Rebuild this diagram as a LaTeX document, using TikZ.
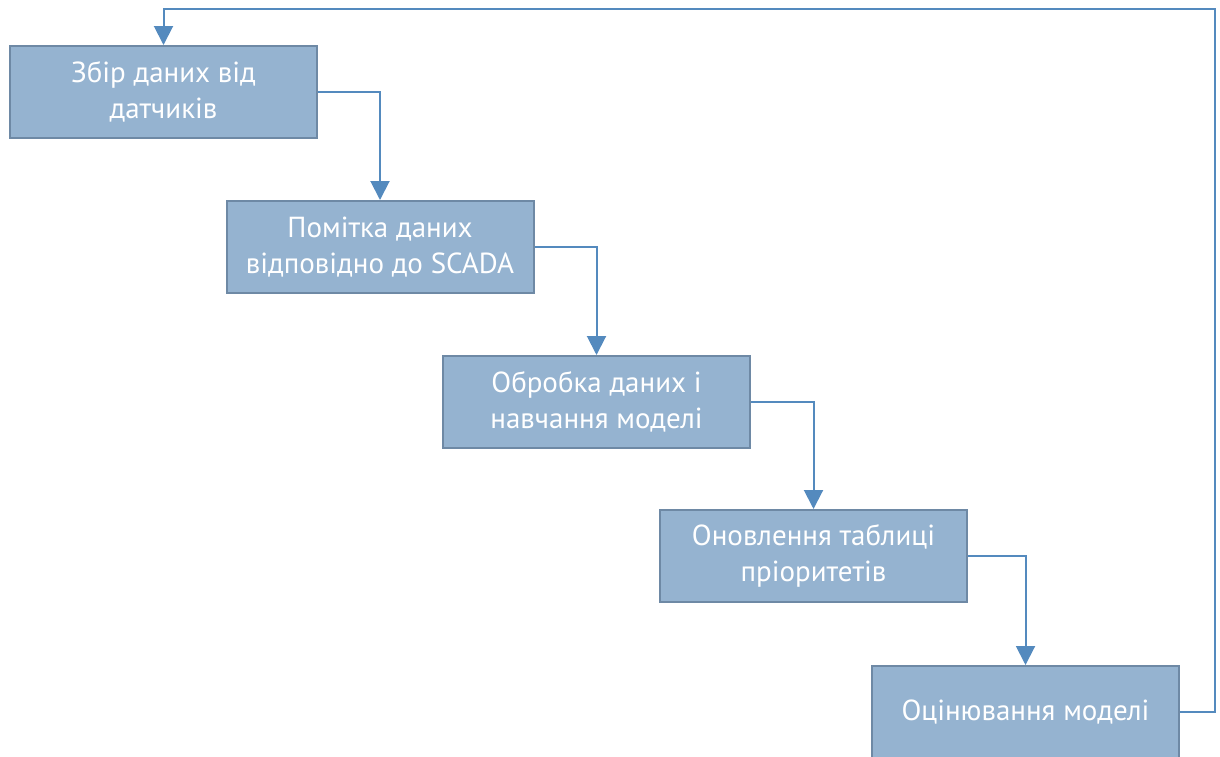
\documentclass[tikz,border=0pt]{standalone}
\usepackage{fontspec}
\setmainfont{PT Sans}
\usetikzlibrary{arrows.meta}
\definecolor{boxfill}{RGB}{149,179,208}
\definecolor{boxline}{RGB}{110,137,165}
\definecolor{conn}{RGB}{84,138,190}
\tikzset{
  stepbox/.style={draw=boxline, line width=2pt, fill=boxfill, minimum width=307pt, minimum height=92pt, inner sep=0pt, align=center, text=white, font=\fontsize{29}{36}\selectfont},
  flow/.style={draw=conn, line width=2pt, -{Triangle[width=19pt,length=19pt]}}
}
\begin{document}
\begin{tikzpicture}[x=1pt,y=-1pt]
\useasboundingbox (0,0) rectangle (1220,756);
\node[stepbox] (b1) at (163.5,92) {Збір даних від\\датчиків};
\node[stepbox] (b2) at (380,247) {Помітка даних\\відповідно до SCADA};
\node[stepbox] (b3) at (596.5,402) {Обробка даних і\\навчання моделі};
\node[stepbox] (b4) at (813.5,556) {Оновлення таблиці\\пріоритетів};
\node[stepbox] (b5) at (1025.5,712) {Оцінювання моделі};
\coordinate (c1) at (1215,9);
\draw[flow] (b1.east) -| (b2.north);
\draw[flow] (b2.east) -| (b3.north);
\draw[flow] (b3.east) -| (b4.north);
\draw[flow] (b4.east) -| (b5.north);
\draw[flow] (b5.east) -| (c1) -| (b1.north);
\end{tikzpicture}
\end{document}
